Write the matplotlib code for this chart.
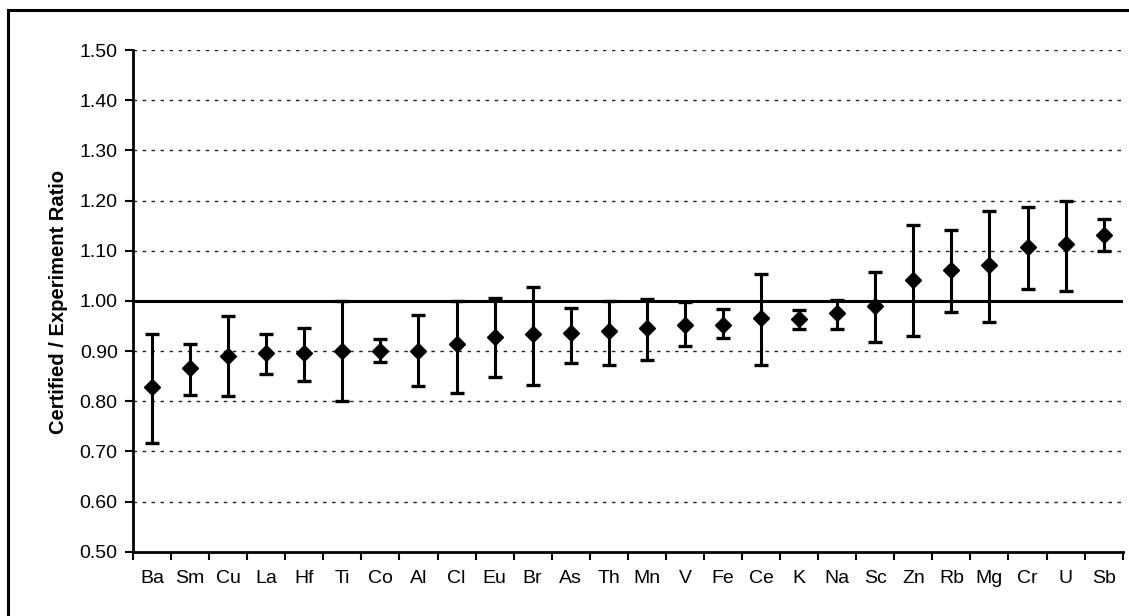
import matplotlib
matplotlib.use('Agg')
import matplotlib.pyplot as plt
from matplotlib.lines import Line2D
from matplotlib.ticker import MultipleLocator, FixedLocator

plt.rcParams['font.family'] = ['Liberation Sans', 'DejaVu Sans']

elements = ['Ba', 'Sm', 'Cu', 'La', 'Hf', 'Ti', 'Co', 'Al', 'Cl', 'Eu', 'Br', 'As', 'Th',
            'Mn', 'V', 'Fe', 'Ce', 'K', 'Na', 'Sc', 'Zn', 'Rb', 'Mg', 'Cr', 'U', 'Sb']
ratio = [0.828, 0.866, 0.890, 0.896, 0.897, 0.900, 0.900, 0.900, 0.913, 0.927, 0.934, 0.935, 0.939,
         0.945, 0.952, 0.952, 0.965, 0.964, 0.975, 0.990, 1.041, 1.061, 1.072, 1.107, 1.114, 1.132]
upper = [0.933, 0.913, 0.969, 0.934, 0.945, 1.000, 0.923, 0.971, 1.000, 1.006, 1.027, 0.985, 1.000,
         1.004, 0.998, 0.983, 1.053, 0.982, 1.002, 1.058, 1.152, 1.141, 1.179, 1.188, 1.200, 1.164]
lower = [0.716, 0.813, 0.811, 0.855, 0.841, 0.800, 0.879, 0.831, 0.817, 0.849, 0.832, 0.876, 0.872,
         0.883, 0.911, 0.925, 0.872, 0.943, 0.943, 0.918, 0.930, 0.978, 0.957, 1.023, 1.020, 1.100]

x = list(range(len(elements)))
yerr = [[r - lo for r, lo in zip(ratio, lower)], [up - r for r, up in zip(ratio, upper)]]

fig = plt.figure(figsize=(11.29, 6.16), dpi=100)
ax = fig.add_axes([0.1178, 0.1044, 0.8766, 0.8144])

# dotted gridlines, solid line at 1.00
for g in [0.6, 0.7, 0.8, 0.9, 1.1, 1.2, 1.3, 1.4, 1.5]:
    ax.axhline(g, color='#222222', lw=1.0, ls=(0, (2.5, 4)), zorder=1)
ax.axhline(1.0, color='black', lw=2.2, zorder=2)

ax.errorbar(x, ratio, yerr=yerr, fmt='D', color='black', ms=8.5,
            elinewidth=2.2, capsize=5, capthick=2.4, zorder=3)

ax.set_xlim(-0.5, len(elements) - 0.5)
ax.set_ylim(0.5, 1.5)
ax.yaxis.set_major_locator(MultipleLocator(0.1))
ax.set_yticklabels([f'{v:.2f}' for v in ax.get_yticks()])

ax.xaxis.set_major_locator(FixedLocator(x))
ax.set_xticklabels(elements)
ax.xaxis.set_minor_locator(FixedLocator([i + 0.5 for i in range(-1, len(elements))]))
ax.tick_params(axis='x', which='major', length=0, pad=13, labelsize=14)
ax.tick_params(axis='x', which='minor', length=6, width=1.5, direction='out')
ax.tick_params(axis='y', length=6, width=1.5, direction='out', labelsize=14, pad=5)

for s in ['top', 'right']:
    ax.spines[s].set_visible(False)
ax.spines['left'].set_linewidth(2)
ax.spines['bottom'].set_linewidth(2)

fig.text(0.052, 0.51, 'Certified / Experiment Ratio', rotation=90, ha='center', va='center',
         fontsize=14.5, fontweight='bold')

# outer frame (cut off at right and bottom)
fig.add_artist(Line2D([0.0071, 0.0071], [0.0, 0.9838], transform=fig.transFigure, color='black', lw=2.2))
fig.add_artist(Line2D([0.0071, 1.0], [0.9838, 0.9838], transform=fig.transFigure, color='black', lw=2.2))

fig.savefig('out.png', dpi=100)
